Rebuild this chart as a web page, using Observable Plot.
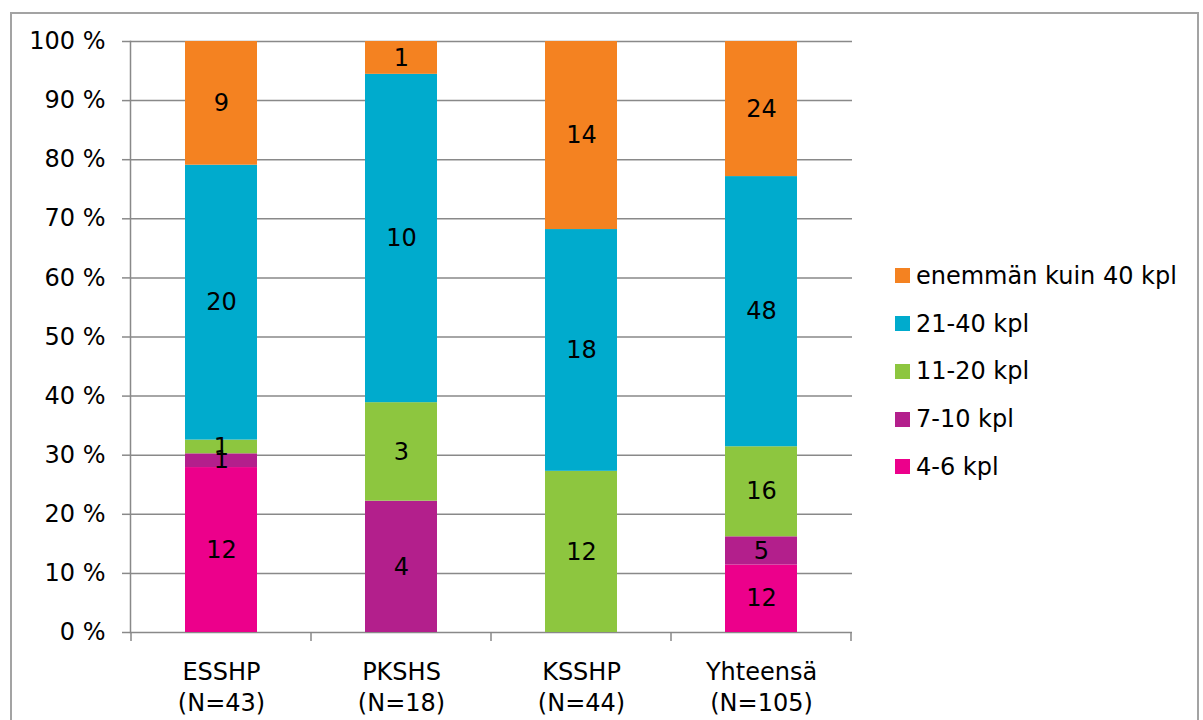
<!DOCTYPE html>
<html>
<head>
<meta charset="utf-8">
<script src="https://cdn.jsdelivr.net/npm/d3@7"></script>
<script src="https://cdn.jsdelivr.net/npm/@observablehq/plot@0.6"></script>
<style>
  html, body { margin: 0; padding: 0; background: #fff; }
  #wrap { position: relative; width: 1203px; height: 720px; overflow: hidden; font-family: "DejaVu Sans", sans-serif; }
  #frame { position: absolute; left: 10px; top: 12px; width: 1185px; height: 760px; border: 2px solid #a3a3a3; pointer-events: none; }
  #legend { position: absolute; left: 895px; top: 252px; font-size: 24px; color: #000; }
  #legend .item { display: flex; align-items: center; height: 47.75px; white-space: nowrap; }
  #legend .sw { width: 15px; height: 15px; margin-right: 6px; flex: none; }
</style>
</head>
<body>
<div id="wrap">
  <div id="chart"></div>
  <div id="legend"></div>
  <div id="frame"></div>
</div>
<script>
// Hospital districts and respondent counts
const categories = ["ESSHP", "PKSHS", "KSSHP", "Yhteensä"];
const categoryN = [43, 18, 44, 105];

// Size classes, bottom to top of each stack
const seriesNames = ["4-6 kpl", "7-10 kpl", "11-20 kpl", "21-40 kpl", "enemmän kuin 40 kpl"];
const seriesColors = ["#EC008B", "#B31F8C", "#8DC63F", "#00ABCD", "#F48221"];

// Counts per district for each size class
const counts4to6 = [12, 0, 0, 12];
const counts7to10 = [1, 4, 0, 5];
const counts11to20 = [1, 3, 12, 16];
const counts21to40 = [20, 10, 18, 48];
const countsOver40 = [9, 1, 14, 24];

const yTicks = [0, 0.1, 0.2, 0.3, 0.4, 0.5, 0.6, 0.7, 0.8, 0.9, 1];

const seriesCounts = [counts4to6, counts7to10, counts11to20, counts21to40, countsOver40];
const rows = [];
seriesNames.forEach((s, si) => {
  categories.forEach((c, ci) => {
    const v = seriesCounts[si][ci];
    if (v > 0) rows.push({category: c, series: s, count: v});
  });
});

const gridColor = "#898989";

const chart = Plot.plot({
  width: 1203,
  height: 720,
  marginLeft: 130,
  marginRight: 351,
  marginTop: 41,
  marginBottom: 88,
  style: {fontFamily: "DejaVu Sans", fontSize: "24px", color: "#000", background: "transparent", overflow: "visible"},
  x: {domain: categories, paddingInner: 0.6, paddingOuter: 0.3, axis: null},
  y: {domain: [0, 1], axis: null},
  color: {domain: seriesNames, range: seriesColors},
  marks: [
    Plot.ruleY(yTicks, {stroke: gridColor, strokeWidth: 1.5}),
    Plot.barY(rows, {x: "category", y: "count", fill: "series", z: "series", offset: "normalize", order: seriesNames}),
    Plot.text(rows, Plot.stackY({x: "category", y: "count", z: "series", text: "count", offset: "normalize", order: seriesNames, fill: "#000"})),
    Plot.axisY(yTicks, {label: null, tickSize: 8, tickPadding: 17, stroke: gridColor, strokeWidth: 1.5, strokeOpacity: 1, tickFormat: d => `${Math.round(d * 100)} %`, fontSize: 24}),
    Plot.frame({anchor: "left", stroke: gridColor, strokeWidth: 1.5}),
    Plot.text(categories, {
      x: d => d,
      text: (d, i) => `${d}\n(N=${categoryN[i]})`,
      frameAnchor: "bottom",
      lineAnchor: "top",
      dy: 25,
      lineHeight: 1.3,
      fontSize: 24
    })
  ]
});
document.getElementById("chart").appendChild(chart);

// Category boundary ticks below the baseline
const xs = chart.scale("x");
const ys = chart.scale("y");
const base = ys.apply(0);
const bounds = categories.map(c => xs.apply(c) + xs.bandwidth / 2 - xs.step / 2);
bounds.push(bounds[bounds.length - 1] + xs.step);
d3.select(chart).append("g")
  .attr("stroke", gridColor)
  .attr("stroke-width", 1.5)
  .selectAll("line")
  .data(bounds)
  .join("line")
  .attr("x1", d => d).attr("x2", d => d)
  .attr("y1", base).attr("y2", base + 9);

// Legend, largest class on top
const legend = d3.select("#legend");
seriesNames.map((s, i) => ({s, c: seriesColors[i]})).reverse().forEach(({s, c}) => {
  const item = legend.append("div").attr("class", "item");
  item.append("div").attr("class", "sw").style("background", c);
  item.append("span").text(s);
});
</script>
</body>
</html>
